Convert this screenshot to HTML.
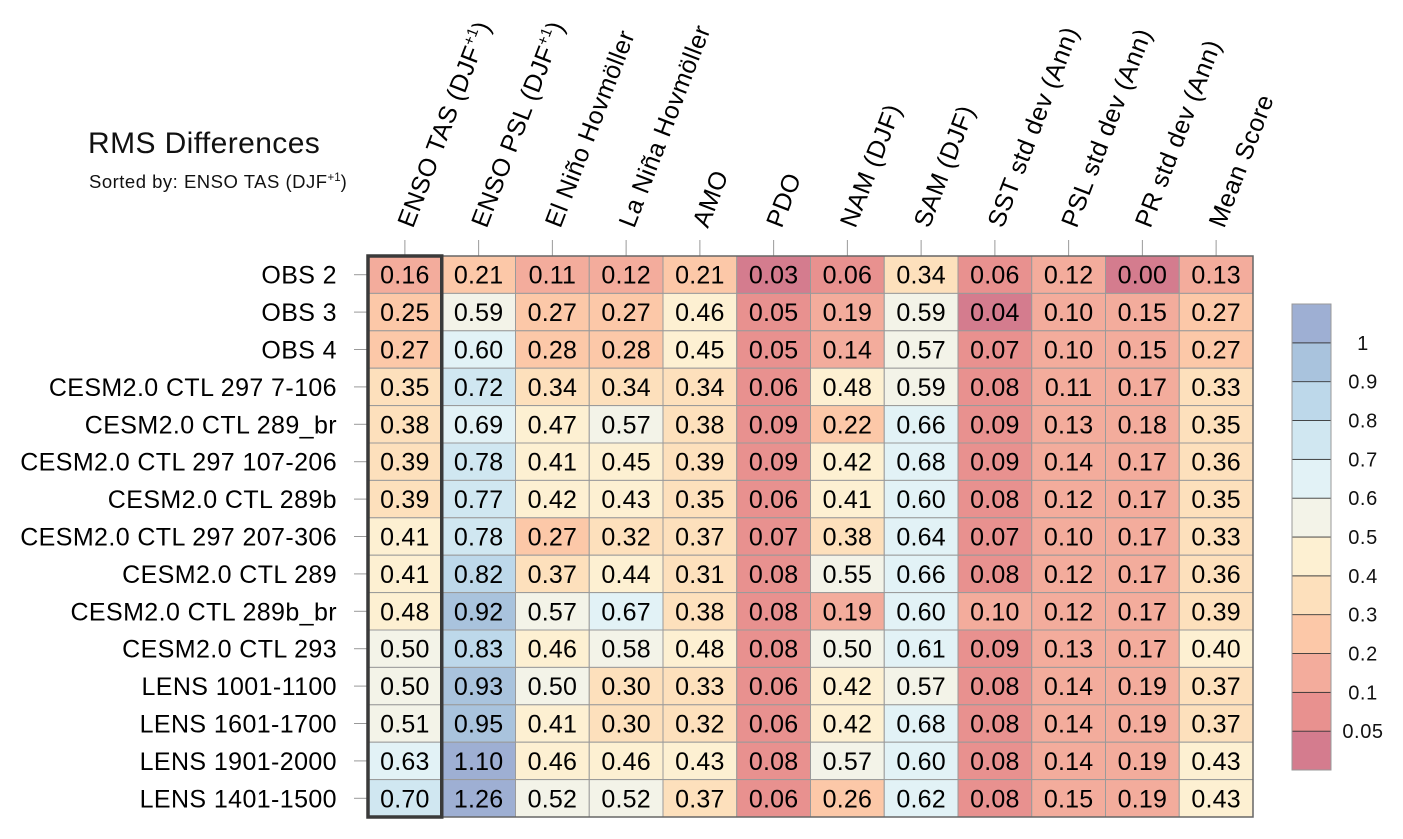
<!DOCTYPE html>
<html><head><meta charset="utf-8"><style>
html,body{margin:0;padding:0;background:#fff;}
svg{display:block;font-family:"Liberation Sans",Arial,sans-serif;}
</style></head><body>
<svg id="chart" width="1403" height="839" xmlns="http://www.w3.org/2000/svg">
<text x="88" y="153" font-size="30" letter-spacing="0.4" fill="#111">RMS Differences</text>
<text x="89" y="188" font-size="18.5" letter-spacing="0.5" fill="#111">Sorted by: ENSO TAS (DJF<tspan dy="-7" font-size="11.5" letter-spacing="0">+1</tspan><tspan dy="7">)</tspan></text>
<g id="cells"></g><g id="texts"></g><g id="axes"></g><g id="cbar"></g>
</svg>
<script>
const columns = ["ENSO TAS (DJF+1)","ENSO PSL (DJF+1)","El Niño Hovmöller","La Niña Hovmöller","AMO","PDO","NAM (DJF)","SAM (DJF)","SST std dev (Ann)","PSL std dev (Ann)","PR std dev (Ann)","Mean Score"];
const rows = ["OBS 2","OBS 3","OBS 4","CESM2.0 CTL 297 7-106","CESM2.0 CTL 289_br","CESM2.0 CTL 297 107-206","CESM2.0 CTL 289b","CESM2.0 CTL 297 207-306","CESM2.0 CTL 289","CESM2.0 CTL 289b_br","CESM2.0 CTL 293","LENS 1001-1100","LENS 1601-1700","LENS 1901-2000","LENS 1401-1500"];
const values = [
[0.16,0.21,0.11,0.12,0.21,0.03,0.06,0.34,0.06,0.12,0.00,0.13],
[0.25,0.59,0.27,0.27,0.46,0.05,0.19,0.59,0.04,0.10,0.15,0.27],
[0.27,0.60,0.28,0.28,0.45,0.05,0.14,0.57,0.07,0.10,0.15,0.27],
[0.35,0.72,0.34,0.34,0.34,0.06,0.48,0.59,0.08,0.11,0.17,0.33],
[0.38,0.69,0.47,0.57,0.38,0.09,0.22,0.66,0.09,0.13,0.18,0.35],
[0.39,0.78,0.41,0.45,0.39,0.09,0.42,0.68,0.09,0.14,0.17,0.36],
[0.39,0.77,0.42,0.43,0.35,0.06,0.41,0.60,0.08,0.12,0.17,0.35],
[0.41,0.78,0.27,0.32,0.37,0.07,0.38,0.64,0.07,0.10,0.17,0.33],
[0.41,0.82,0.37,0.44,0.31,0.08,0.55,0.66,0.08,0.12,0.17,0.36],
[0.48,0.92,0.57,0.67,0.38,0.08,0.19,0.60,0.10,0.12,0.17,0.39],
[0.50,0.83,0.46,0.58,0.48,0.08,0.50,0.61,0.09,0.13,0.17,0.40],
[0.50,0.93,0.50,0.30,0.33,0.06,0.42,0.57,0.08,0.14,0.19,0.37],
[0.51,0.95,0.41,0.30,0.32,0.06,0.42,0.68,0.08,0.14,0.19,0.37],
[0.63,1.10,0.46,0.46,0.43,0.08,0.57,0.60,0.08,0.14,0.19,0.43],
[0.70,1.26,0.52,0.52,0.37,0.06,0.26,0.62,0.08,0.15,0.19,0.43]];
const levels = [0.05,0.1,0.2,0.3,0.4,0.5,0.6,0.7,0.8,0.9,1];
const levelLabels = ["0.05","0.1","0.2","0.3","0.4","0.5","0.6","0.7","0.8","0.9","1"];
const palette = ["#D47C8E","#E8918F","#F3AC9C","#FCC8A8","#FDE0BC","#FDF0D2","#F3F3E8","#E2F2F6","#D0E7F1","#BDD8EA","#A9C3DD","#9EAFD3"];

const NS="http://www.w3.org/2000/svg";
const X0=368,X1=1253,Y0=256,Y1=817;
const cw=(X1-X0)/columns.length, rh=(Y1-Y0)/rows.length;
const xPos=i=>X0+i*cw, yPos=j=>Y0+j*rh;
function colorFor(v){let k=0;while(k<levels.length&&v>=levels[k]-1e-9)k++;return palette[k];}
function mk(tag,attrs,parent){const e=document.createElementNS(NS,tag);for(const k in attrs)e.setAttribute(k,attrs[k]);parent.appendChild(e);return e;}
const gC=document.getElementById('cells'),gT=document.getElementById('texts'),gA=document.getElementById('axes'),gB=document.getElementById('cbar');
rows.forEach((r,j)=>{columns.forEach((c,i)=>{
 const v=values[j][i];
 const rc=mk('rect',{x:xPos(i),y:yPos(j),width:cw,height:rh,fill:colorFor(v),stroke:'#9a9a9a','stroke-width':1},gC);
 
 
 const t=mk('text',{x:xPos(i)+cw/2,y:yPos(j)+rh/2+9,'text-anchor':'middle','font-size':25,'letter-spacing':0.2,fill:'#000'},gT);
 t.textContent=v.toFixed(2);
 
 
});
 const ln=mk('line',{x1:354,x2:X0,y1:yPos(j)+rh/2,y2:yPos(j)+rh/2,stroke:'#999','stroke-width':1},gA);
 
 
 const t=mk('text',{x:337,y:yPos(j)+rh/2+9,'text-anchor':'end','font-size':25,'letter-spacing':0.4,fill:'#000'},gA);
 t.textContent=r;
 
 
});
columns.forEach((c,i)=>{
 const cx=xPos(i)+cw/2;
 const ln=mk('line',{x1:cx,x2:cx,y1:240,y2:Y0,stroke:'#999','stroke-width':1},gA);
 
 
 const t=mk('text',{transform:`translate(${cx+8},229) rotate(-69)`,'font-size':25,'letter-spacing':0.5,fill:'#000'},gA);
 const m=c.match(/^(.*)\(DJF\+1\)$/);
 if(m){t.textContent=m[1]+'(DJF';const s=mk('tspan',{dy:-10,'font-size':15,'letter-spacing':0.3},t);s.textContent='+1';const s2=mk('tspan',{dy:10},t);s2.textContent=')';}
 else t.textContent=c;
 
 
});
const fr=mk('rect',{x:X0,y:Y0,width:X1-X0,height:Y1-Y0,fill:'none',stroke:'#666','stroke-width':1.5},gA);


const hb=mk('rect',{x:X0,y:Y0,width:cw,height:Y1-Y0,fill:'none',stroke:'#3a3a3a','stroke-width':3.5},gA);


const BX=1292,BW=39,BT=304,BB=770,nb=palette.length,bh=(BB-BT)/nb;
for(let k=0;k<nb;k++){
 const y=BT+(nb-1-k)*bh;
 const r=mk('rect',{x:BX,y:y,width:BW,height:bh,fill:palette[k],stroke:'#333','stroke-width':0.8},gB);
 
 
}
levels.forEach((lv,k)=>{
 const y=BT+(nb-1-k)*bh;
 const t=mk('text',{x:1363,y:y+7,'text-anchor':'middle','font-size':20,'letter-spacing':0.6,fill:'#111'},gB);
 t.textContent=levelLabels[k];
 
 
});
const cf=mk('rect',{x:BX,y:BT,width:BW,height:BB-BT,fill:'none',stroke:'#999','stroke-width':1},gB);


</script>
</body></html>
